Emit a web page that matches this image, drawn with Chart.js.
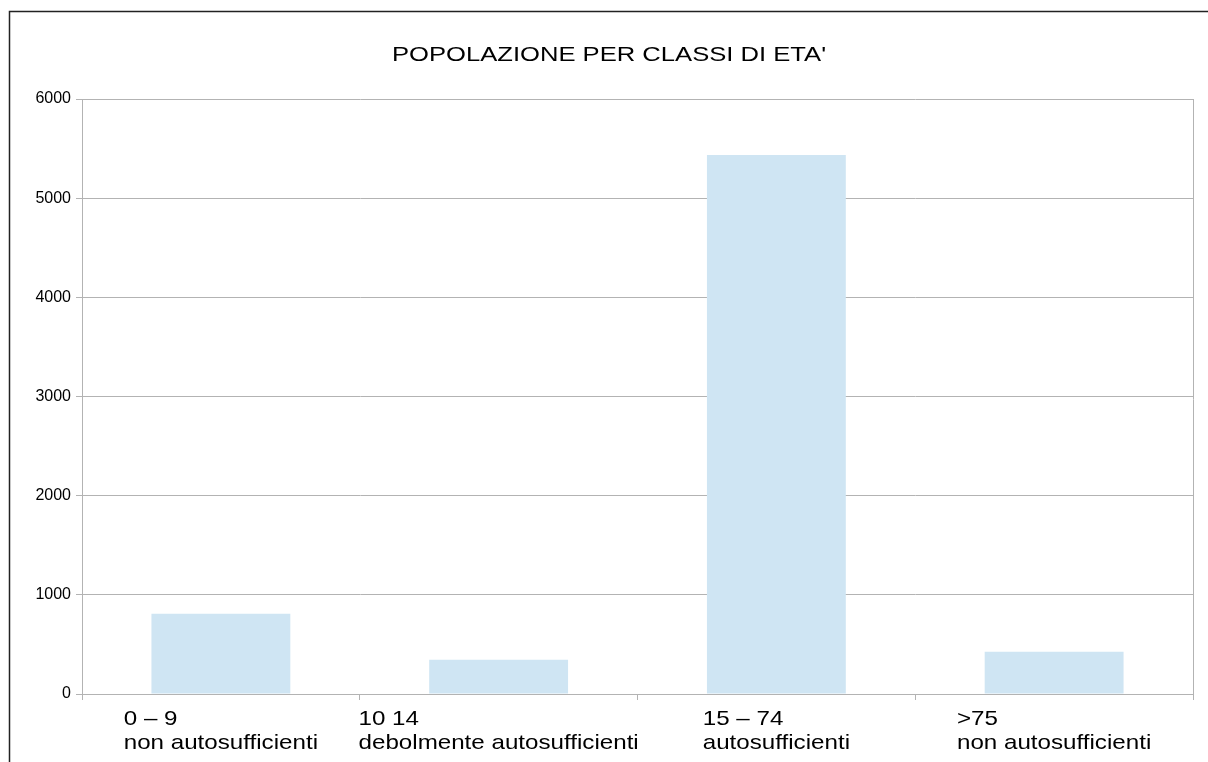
<!DOCTYPE html>
<html>
<head>
<meta charset="utf-8">
<title>Popolazione per classi di eta'</title>
<script src="https://cdn.jsdelivr.net/npm/chart.js@4.4.0/dist/chart.umd.min.js"></script>
<style>
    html, body { margin: 0; padding: 0; background: #ffffff; }
    #wrap { width: 1208px; height: 762px; }
</style>
</head>
<body>
<div id="wrap"><canvas id="bar-chart" width="1208" height="762"></canvas></div>
<script>
    "use strict";

    // Data
    var chartTitle = "POPOLAZIONE PER CLASSI DI ETA'";
    var ageClasses = ["0 \u2013 9", "10 14", "15 \u2013 74", ">75"];
    var ageNotes = ["non autosufficienti", "debolmente autosufficienti", "autosufficienti", "non autosufficienti"];
    var population = [810, 345, 5435, 425];
    var yMax = 6000;
    var yStep = 1000;

    var fontFamily = '"Liberation Sans", Arial, sans-serif';
    var gridColor = "#b3b3b3";


    // Frame, title and category labels (drawn wide, like the original)
    var decorations = {
        id: "decorations",
        beforeDraw: function (chart) {
            var ctx = chart.ctx;
            ctx.save();
            ctx.fillStyle = "#ffffff";
            ctx.fillRect(0, 0, chart.width, chart.height);
            ctx.strokeStyle = "#222222";
            ctx.lineWidth = 1.5;
            ctx.beginPath();
            ctx.moveTo(9.5, chart.height);
            ctx.lineTo(9.5, 11.5);
            ctx.lineTo(chart.width, 11.5);
            ctx.stroke();
            ctx.restore();
        },
        afterDraw: function (chart) {
            var ctx = chart.ctx;
            var area = chart.chartArea;
            var xs = chart.scales.x;

            ctx.save();
            // right edge of the plot
            ctx.strokeStyle = gridColor;
            ctx.lineWidth = 1;
            ctx.beginPath();
            ctx.moveTo(area.right + 0.5, area.top);
            ctx.lineTo(area.right + 0.5, area.bottom + 6);
            ctx.stroke();

            ctx.fillStyle = "#000000";
            ctx.textBaseline = "alphabetic";

            // title
            ctx.font = "20px " + fontFamily;
            var titleStretch = 1.28;
            var tw = ctx.measureText(chartTitle).width * titleStretch;
            ctx.save();
            ctx.translate((chart.width + 10) / 2 - tw / 2, 61);
            ctx.scale(titleStretch, 1);
            ctx.fillText(chartTitle, 0, 0);
            ctx.restore();

            // category labels, left aligned inside a centred block
            ctx.font = "21px " + fontFamily;
            var labelStretch = 1.15;
            ageClasses.forEach(function (cls, i) {
                var cx = xs.getPixelForValue(i);
                var w = Math.max(ctx.measureText(cls).width, ctx.measureText(ageNotes[i]).width) * labelStretch;
                ctx.save();
                ctx.translate(cx - w / 2, xs.top);
                ctx.scale(labelStretch, 1);
                ctx.fillText(cls, 0, 31);
                ctx.fillText(ageNotes[i], 0, 55);
                ctx.restore();
            });
            ctx.restore();
        }
    };


    // Bar Chart
    var ctx1 = document.getElementById("bar-chart").getContext("2d");
    var myChart1 = new Chart(ctx1, {
        type: "bar",
        data: {
            labels: ageClasses,
            datasets: [{
                label: chartTitle,
                data: population,
                backgroundColor: "#cfe5f3",
                borderWidth: 0,
                categoryPercentage: 1,
                barPercentage: 0.5
            }]
        },
        options: {
            responsive: false,
            animation: false,
            devicePixelRatio: 1,
            layout: {
                padding: { top: 99, right: 15, left: 0, bottom: 0 }
            },
            plugins: {
                legend: { display: false },
                title: { display: false },
                tooltip: { enabled: false }
            },
            scales: {
                x: {
                    afterFit: function (scale) { scale.height = 68; },
                    grid: {
                        offset: true,
                        drawOnChartArea: false,
                        drawTicks: true,
                        tickLength: 6,
                        color: gridColor
                    },
                    border: { color: gridColor },
                    ticks: { display: false }
                },
                y: {
                    min: 0,
                    max: yMax,
                    afterFit: function (scale) { scale.width = 82; },
                    grid: {
                        color: gridColor,
                        tickLength: 6,
                        drawTicks: true
                    },
                    border: { color: gridColor },
                    ticks: {
                        stepSize: yStep,
                        padding: 5,
                        color: "#000000",
                        font: { family: fontFamily, size: 16 },
                        callback: function (value) { return String(value); }
                    }
                }
            }
        },
        plugins: [decorations]
    });
</script>
</body>
</html>
